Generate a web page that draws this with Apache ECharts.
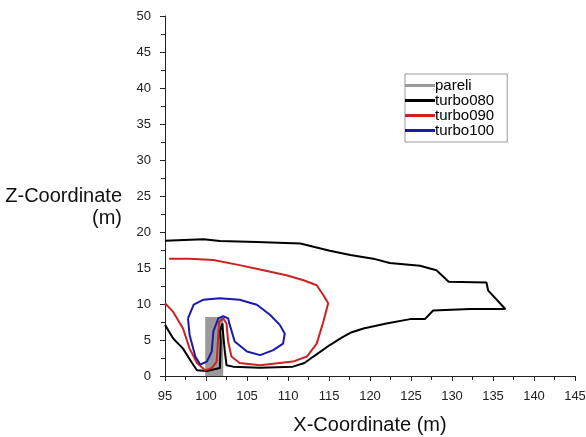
<!DOCTYPE html>
<html>
<head>
<meta charset="utf-8">
<script src="https://cdn.jsdelivr.net/npm/echarts@6/dist/echarts.min.js"></script>
<style>
  html, body { margin: 0; padding: 0; background: #fff; }
  #chart { width: 586px; height: 437px; }
</style>
</head>
<body>
<div id="chart"></div>
<script>
// wall (pareli)
var pareli = [[99.9, 0], [99.9, 8.2], [102.1, 8.2], [102.1, 0]];

var turbo080 = [
  [95, 7.1], [96.0, 5.2], [97.2, 3.8], [98.3, 1.8], [98.9, 0.8], [100.1, 0.7],
  [101.7, 1.1], [101.8, 4.8], [101.7, 6.2], [102.0, 7.3], [102.2, 7.1], [102.1, 5.7],
  [102.3, 3.4], [102.5, 1.5], [103.3, 1.3], [106.6, 1.15], [110.6, 1.3], [112.0, 1.8],
  [113.1, 2.7], [115.1, 4.3], [116.5, 5.3], [117.6, 6.0], [119.2, 6.6], [122.0, 7.3],
  [124.9, 7.9], [126.7, 7.9], [127.7, 9.1], [132.2, 9.3], [136.5, 9.3], [134.4, 11.9],
  [134.2, 13.0], [129.6, 13.1], [128.1, 14.7], [126.1, 15.3], [122.4, 15.7], [120.4, 16.3],
  [117.6, 16.8], [115.1, 17.4], [111.5, 18.4], [106.2, 18.6], [101.7, 18.75], [99.7, 19.0],
  [95, 18.8]
];

var turbo090 = [
  [95, 10.1], [96.0, 8.9], [97.2, 6.6], [98.0, 3.8], [98.9, 1.8], [99.9, 0.8],
  [100.7, 1.1], [101.3, 2.0], [101.5, 5.7], [101.6, 7.5], [102.1, 8.0], [102.5, 7.3],
  [102.7, 4.8], [103.1, 2.7], [104.1, 1.8], [106.6, 1.5], [110.6, 2.0], [112.3, 2.7],
  [113.5, 4.5], [114.3, 7.5], [114.9, 10.1], [114.3, 11.25], [113.5, 12.6], [111.9, 13.3],
  [109.8, 14.0], [107.0, 14.7], [104.1, 15.4], [100.9, 16.1], [98.0, 16.3], [95.5, 16.3]
];

var turbo100 = [
  [97.8, 8.0], [98.5, 9.9], [99.7, 10.6], [101.7, 10.8], [104.1, 10.6], [106.2, 9.9],
  [107.8, 8.5], [109.0, 7.1], [109.6, 5.9], [109.4, 4.5], [108.2, 3.6], [106.6, 2.9],
  [105.0, 3.4], [103.5, 4.8], [102.9, 7.1], [102.7, 8.0], [102.1, 8.3], [101.5, 8.0],
  [100.9, 6.2], [100.7, 3.4], [100.1, 2.0], [99.3, 1.6], [98.7, 2.7], [98.0, 5.7], [97.8, 8.0]
];

var seriesNames = ['pareli', 'turbo080', 'turbo090', 'turbo100'];
var seriesColors = ['#9a9a9a', '#000000', '#cc2222', '#1a1aaa'];

var myChart = echarts.init(document.getElementById('chart'));

function lineSeries(i, data) {
  return {
    name: seriesNames[i],
    type: 'line',
    data: data,
    symbol: 'none',
    smooth: false,
    color: seriesColors[i],
    lineStyle: { color: seriesColors[i], width: 2 },
    animation: false
  };
}

var wall = lineSeries(0, pareli);
wall.lineStyle = { color: seriesColors[0], width: 0 };
wall.areaStyle = { color: seriesColors[0], opacity: 1 };

var option = {
  backgroundColor: '#fff',
  textStyle: { fontFamily: 'Liberation Sans' },
  grid: { left: 165, right: 11, top: 16, bottom: 61, outerBoundsMode: 'none' },
  legend: {
    orient: 'vertical',
    left: 405,
    top: 74,
    data: seriesNames,
    icon: 'rect',
    itemWidth: 30,
    itemHeight: 3,
    itemGap: 0,
    padding: [4, 13, 4, 0],
    borderColor: '#999',
    borderWidth: 1,
    textStyle: { fontSize: 15, color: '#000', padding: [0, 0, 0, -5], lineHeight: 13 }
  },
  xAxis: {
    type: 'value',
    min: 95,
    max: 145,
    interval: 5,
    name: 'X-Coordinate (m)',
    nameLocation: 'middle',
    nameGap: 39,
    nameTextStyle: { fontSize: 20, color: '#111' },
    axisLine: { lineStyle: { color: '#222' } },
    axisTick: { length: 5, lineStyle: { color: '#222' } },
    minorTick: { show: true, splitNumber: 2, length: 4, lineStyle: { color: '#222' } },
    axisLabel: { fontSize: 13, color: '#222', margin: 14 },
    splitLine: { show: false }
  },
  yAxis: {
    type: 'value',
    min: 0,
    max: 50,
    interval: 5,
    name: '\nZ-Coordinate\n(m)',
    nameLocation: 'middle',
    nameRotate: 0,
    nameGap: 43,
    nameTextStyle: { fontSize: 20, color: '#111', align: 'right', verticalAlign: 'middle', lineHeight: 22 },
    axisLine: { show: true, lineStyle: { color: '#222' } },
    axisTick: { show: true, length: 5, lineStyle: { color: '#222' } },
    minorTick: { show: true, splitNumber: 2, length: 4, lineStyle: { color: '#222' } },
    axisLabel: { fontSize: 13, color: '#222', margin: 14 },
    splitLine: { show: false }
  },
  series: [
    wall,
    lineSeries(1, turbo080),
    lineSeries(2, turbo090),
    lineSeries(3, turbo100)
  ]
};
myChart.setOption(option);
</script>
</body>
</html>
